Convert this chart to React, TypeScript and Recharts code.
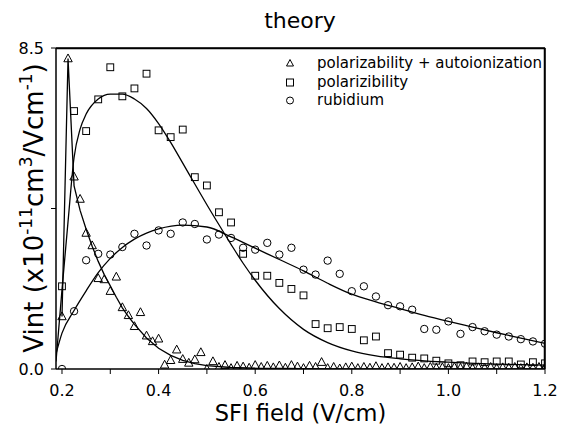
import React from 'react';
import { ComposedChart, XAxis, YAxis, Line, Scatter, CartesianGrid } from 'recharts';

const FONT = '"DejaVu Sans", "Liberation Sans", Arial, sans-serif';

const titleText = 'theory';
const xLabelText = 'SFI field (V/cm)';
const seriesNames = ['polarizability + autoionization', 'polarizibility', 'rubidium'];

const xDomain = [0.1876, 1.2];
const yDomain = [0, 8.5];
const xTicks = [0.2, 0.3, 0.4, 0.5, 0.6, 0.7, 0.8, 0.9, 1.0, 1.1, 1.2];
const yTicks = [0, 4.25, 8.5];

// triangles: polarizability + autoionization
const triField = [
  0.2, 0.2125, 0.225, 0.2375, 0.25, 0.2625, 0.275, 0.2875, 0.3, 0.3125, 0.325, 0.3375, 0.35, 0.3625,
  0.375, 0.3875, 0.4, 0.4125, 0.425, 0.4375, 0.45, 0.4625, 0.475, 0.4875, 0.5, 0.5125, 0.525, 0.5375,
  0.55, 0.5625, 0.575, 0.5875, 0.6, 0.6125, 0.625, 0.6375, 0.65, 0.6625, 0.675, 0.6875, 0.7, 0.7125,
  0.725, 0.7375, 0.75, 0.7625, 0.775, 0.7875, 0.8, 0.8125, 0.825, 0.8375, 0.85, 0.8625, 0.875, 0.8875,
  0.9, 0.9125, 0.925, 0.9375, 0.95, 0.9625, 0.975, 0.9875, 1.0, 1.0125, 1.025, 1.0375, 1.05, 1.0625,
  1.075, 1.0875, 1.1, 1.1125, 1.125, 1.1375, 1.15, 1.1625, 1.175, 1.1875, 1.2,
];
const triVint = [
  1.39, 8.22, 5.09, 4.5, 3.6, 3.27, 2.4, 2.37, 2.06, 2.44, 1.63, 1.42, 1.13, 1.5,
  0.88, 0.73, 0.8, 0.11, 0.23, 0.51, 0.26, 0.16, 0.25, 0.44, 0.0, 0.2, 0.05, 0.1,
  0.02, 0.08, 0.06, 0.03, 0.1, 0.05, 0.08, 0.04, 0.09, 0.03, 0.1, 0.06, 0.02, 0.08,
  0.05, 0.18, 0.02, 0.05, 0.01, 0.04, 0.06, 0.02, 0.05, 0.03, 0.07, 0.02, 0.04, 0.03,
  0.05, 0.02, 0.04, 0.06, 0.02, 0.05, 0.03, 0.04, 0.02, 0.05, 0.03, 0.06, 0.02, 0.04,
  0.03, 0.05, 0.02, 0.04, 0.03, 0.05, 0.02, 0.04, 0.03, 0.05, 0.04,
];

// squares: polarizibility ; circles: rubidium
const field = [
  0.2, 0.225, 0.25, 0.275, 0.3, 0.325, 0.35, 0.375, 0.4, 0.425, 0.45, 0.475, 0.5, 0.525,
  0.55, 0.575, 0.6, 0.625, 0.65, 0.675, 0.7, 0.725, 0.75, 0.775, 0.8, 0.825, 0.85, 0.875,
  0.9, 0.925, 0.95, 0.975, 1.0, 1.025, 1.05, 1.075, 1.1, 1.125, 1.15, 1.175, 1.2,
];
const sqVint = [
  2.19, 6.83, 6.3, 7.14, 7.99, 7.22, 7.43, 7.82, 6.32, 6.14, 6.34, 5.08, 4.86, 4.15,
  3.88, 3.05, 2.47, 2.47, 2.28, 2.12, 1.95, 1.19, 1.08, 1.11, 1.06, 0.76, 0.86, 0.42,
  0.38, 0.3, 0.28, 0.22, 0.15, 0.1, 0.2, 0.18, 0.2, 0.2, 0.12, 0.18, 0.15,
];
const rbVint = [
  0.0, 1.53, 2.88, 3.05, 3.03, 3.23, 3.58, 3.27, 3.67, 3.58, 3.88, 3.84, 3.43, 3.56,
  3.47, 3.21, 3.16, 3.34, 3.03, 3.21, 2.63, 2.5, 2.87, 2.52, 2.06, 2.19, 1.92, 1.69,
  1.66, 1.57, 1.06, 1.04, 1.26, 0.93, 1.11, 1.0, 0.91, 0.86, 0.79, 0.73, 0.67,
];

// fitted curves
const triFitField = [0.2, 0.2125, 0.225, 0.2375, 0.25, 0.2625, 0.275, 0.2875, 0.3, 0.3125, 0.325, 0.3375, 0.35, 0.375, 0.4, 0.425, 0.45, 0.475, 0.5, 0.55, 0.6, 0.7, 0.8, 1.0, 1.2];
const triFitVint = [1.39, 8.22, 4.85, 4.2, 3.7, 3.25, 2.85, 2.5, 2.2, 1.9, 1.62, 1.39, 1.18, 0.82, 0.55, 0.36, 0.23, 0.14, 0.09, 0.04, 0.02, 0.01, 0.005, 0.0, 0.0];

const sqFitField = [0.1876, 0.2, 0.2125, 0.225, 0.2375, 0.25, 0.275, 0.3, 0.325, 0.35, 0.375, 0.4, 0.425, 0.45, 0.475, 0.5, 0.525, 0.55, 0.575, 0.6, 0.65, 0.7, 0.75, 0.8, 0.85, 0.9, 1.0, 1.1, 1.2];
const sqFitVint = [0.2, 2.1, 3.9, 5.6, 6.35, 6.75, 7.15, 7.28, 7.28, 7.15, 6.9, 6.5, 6.0, 5.45, 4.9, 4.35, 3.82, 3.3, 2.8, 2.35, 1.6, 1.05, 0.7, 0.48, 0.35, 0.27, 0.18, 0.13, 0.1];

const rbFitField = [0.1876, 0.2, 0.225, 0.25, 0.275, 0.3, 0.325, 0.35, 0.375, 0.4, 0.45, 0.5, 0.55, 0.6, 0.65, 0.7, 0.75, 0.8, 0.85, 0.9, 0.95, 1.0, 1.05, 1.1, 1.15, 1.2];
const rbFitVint = [0.4, 0.95, 1.55, 2.07, 2.55, 2.93, 3.22, 3.44, 3.6, 3.71, 3.81, 3.76, 3.5, 3.2, 2.9, 2.6, 2.27, 1.98, 1.78, 1.6, 1.42, 1.26, 1.11, 0.96, 0.82, 0.68];

const zip = (xs: number[], ys: number[]) => xs.map((x, i) => ({ x, y: ys[i] }));
const triData = zip(triField, triVint);
const sqData = zip(field, sqVint);
const rbData = zip(field, rbVint);
const triFit = zip(triFitField, triFitVint);
const sqFit = zip(sqFitField, sqFitVint);
const rbFit = zip(rbFitField, rbFitVint);

const TriShape = (p: any) => {
  const { cx, cy } = p;
  if (cx == null || cy == null) return null;
  return <polygon points={`${cx},${cy - 4.6} ${cx + 4.2},${cy + 3.2} ${cx - 4.2},${cy + 3.2}`} fill="none" stroke="#000" strokeWidth={1} />;
};
const SqShape = (p: any) => {
  const { cx, cy } = p;
  if (cx == null || cy == null) return null;
  return <rect x={cx - 3.4} y={cy - 3.4} width={6.8} height={6.8} fill="none" stroke="#000" strokeWidth={1} />;
};
const CircShape = (p: any) => {
  const { cx, cy } = p;
  if (cx == null || cy == null) return null;
  return <circle cx={cx} cy={cy} r={3.7} fill="none" stroke="#000" strokeWidth={1} />;
};

const legendSymbols = [
  <polygon key="t" points="7,4.5 10.5,11 3.5,11" fill="none" stroke="#000" strokeWidth={1} />,
  <rect key="s" x={3.5} y={5} width={7} height={7} fill="none" stroke="#000" strokeWidth={1} />,
  <circle key="c" cx={7} cy={8.5} r={3.5} fill="none" stroke="#000" strokeWidth={1} />,
];
const legendCenters = [63, 82, 100];

export default function App() {
  return (
    <div style={{ position: 'absolute', left: 0, top: 0, width: 561, height: 438, background: '#fff', fontFamily: FONT }}>
      <ComposedChart width={561} height={438} margin={{ top: 48, right: 16, bottom: 0, left: 0 }}>
        <CartesianGrid horizontalValues={[8.5]} verticalValues={[1.2]} stroke="#000" strokeWidth={1.5} strokeOpacity={1} />
        <XAxis
          dataKey="x"
          type="number"
          domain={xDomain}
          allowDataOverflow
          ticks={xTicks}
          tickFormatter={(v: number) => (Math.round(v * 10) % 2 === 0 ? v.toFixed(1) : '')}
          tickSize={5}
          tickMargin={11}
          height={69}
          stroke="#000"
          tick={{ fill: '#000', fontSize: 16, fontFamily: FONT }}
          axisLine={{ stroke: '#000', strokeWidth: 1.5 }}
          tickLine={{ stroke: '#000' }}
          label={{ value: xLabelText, position: 'insideBottom', offset: 17, fontSize: 22.5, fill: '#000', fontFamily: FONT }}
        />
        <YAxis
          dataKey="y"
          type="number"
          domain={yDomain}
          allowDataOverflow
          ticks={yTicks}
          tickFormatter={(v: number) => (v === 4.25 ? '' : v.toFixed(1))}
          width={56}
          tickSize={5}
          tickMargin={7}
          tick={{ fill: '#000', fontSize: 16, fontFamily: FONT }}
          axisLine={{ stroke: '#000', strokeWidth: 1.5 }}
          tickLine={{ stroke: '#000' }}
        />
        <Line data={sqFit} dataKey="y" type="monotone" dot={false} stroke="#000" strokeWidth={1.3} isAnimationActive={false} legendType="none" />
        <Line data={rbFit} dataKey="y" type="monotone" dot={false} stroke="#000" strokeWidth={1.3} isAnimationActive={false} legendType="none" />
        <Line data={triFit} dataKey="y" type="linear" dot={false} stroke="#000" strokeWidth={1.3} isAnimationActive={false} legendType="none" />
        <Scatter data={triData} dataKey="y" name={seriesNames[0]} shape={TriShape} isAnimationActive={false} />
        <Scatter data={sqData} dataKey="y" name={seriesNames[1]} shape={SqShape} isAnimationActive={false} />
        <Scatter data={rbData} dataKey="y" name={seriesNames[2]} shape={CircShape} isAnimationActive={false} />
      </ComposedChart>
      <svg width={561} height={438} style={{ position: 'absolute', left: 0, top: 0, pointerEvents: 'none' }}>
        <text x={300} y={28} textAnchor="middle" fontSize={22} fill="#000" fontFamily={FONT}>{titleText}</text>
        <path d="M56 48.5 H544.5 V369" fill="none" stroke="#000" strokeWidth={1.5} />
        <text x={43} y={208} transform="rotate(-90 43 208)" textAnchor="middle" fontSize={26} fill="#000" fontFamily={FONT}>
          <tspan>Vint (x10</tspan>
          <tspan fontSize={17} dy={-11}>-11</tspan>
          <tspan dy={11}>cm</tspan>
          <tspan fontSize={17} dy={-11}>3</tspan>
          <tspan dy={11}>/Vcm</tspan>
          <tspan fontSize={17} dy={-11}>-1</tspan>
          <tspan dy={11}>)</tspan>
        </text>
      </svg>
      {seriesNames.map((name, i) => (
        <div key={name} style={{ position: 'absolute', left: 283, top: legendCenters[i] - 9, height: 18, display: 'flex', alignItems: 'center' }}>
          <svg width={14} height={17} style={{ display: 'block' }}>{legendSymbols[i]}</svg>
          <span style={{ marginLeft: 20, fontSize: 15, lineHeight: '18px', color: '#000', whiteSpace: 'nowrap' }}>{name}</span>
        </div>
      ))}
    </div>
  );
}
